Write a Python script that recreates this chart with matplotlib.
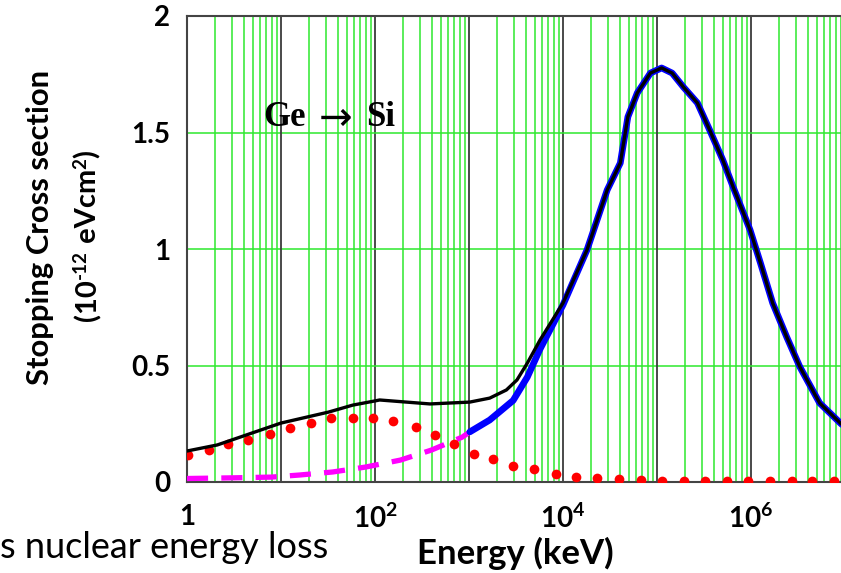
import matplotlib
matplotlib.use("Agg")
import matplotlib.pyplot as plt
from matplotlib.ticker import LogLocator, NullFormatter

plt.rcParams['font.family'] = ['Lato', 'DejaVu Sans']
plt.rcParams['mathtext.fontset'] = 'custom'
plt.rcParams['mathtext.rm'] = 'Lato:bold'
plt.rcParams['mathtext.bf'] = 'Lato:bold'
plt.rcParams['mathtext.it'] = 'Lato:bold:italic'

# ---- data (energy in keV, stopping cross section in 1e-12 eV cm^2) ----
E_total = [1, 2.1, 10, 32, 58, 100, 112, 385, 1020, 1660, 2500, 3240, 4170, 5690,
           10000, 18000, 29500, 40700, 49000, 61700, 85100, 112000, 145000,
           191000, 269000, 363000, 501000, 646000, 977000, 1.26e6, 1.70e6, 2.40e6,
           3.31e6, 5.37e6, 8.91e6, 1e7]
S_total = [0.133, 0.159, 0.253, 0.30, 0.33, 0.348, 0.352, 0.335, 0.343, 0.36, 0.395,
           0.438, 0.51, 0.609, 0.768, 0.996, 1.253, 1.369, 1.567, 1.67, 1.755,
           1.777, 1.755, 1.695, 1.627, 1.511, 1.382, 1.266, 1.082, 0.94, 0.768, 0.622,
           0.494, 0.339, 0.253, 0.235]

E_elec_high = [1020, 1660, 2950, 4170, 5690, 10000, 18000, 29500, 40700, 49000, 61700,
               85100, 112000, 145000, 191000, 269000, 363000, 501000, 646000,
               977000, 1.26e6, 1.70e6, 2.40e6, 3.31e6, 5.37e6, 8.91e6, 1e7]
S_elec_high = [0.215, 0.266, 0.35, 0.45, 0.57, 0.76, 0.996, 1.253, 1.369, 1.567, 1.67,
               1.755, 1.777, 1.755, 1.695, 1.627, 1.511, 1.382, 1.266, 1.082,
               0.94, 0.768, 0.622, 0.494, 0.339, 0.253, 0.235]

E_elec_low = [1, 3.2, 7.9, 15.8, 35.5, 79, 186, 398, 851, 1020]
S_elec_low = [0.015, 0.018, 0.021, 0.03, 0.043, 0.064, 0.094, 0.137, 0.193, 0.215]

E_nuc = [1.02, 1.7, 2.75, 4.5, 7.6, 12.6, 21, 34, 58, 95, 155, 270, 440, 690, 1120,
         1800, 2950, 4900, 8500, 13800, 23000, 39000, 68000, 112000, 195000, 324000,
         550000, 930000, 1.6e6, 2.7e6, 4.5e6, 7.6e6]
S_nuc = [0.116, 0.137, 0.163, 0.18, 0.206, 0.232, 0.253, 0.275, 0.275, 0.275, 0.262,
         0.234, 0.2, 0.163, 0.122, 0.099, 0.069, 0.054, 0.036, 0.021, 0.018, 0.013,
         0.01, 0.006, 0.005, 0.004, 0.004, 0.003, 0.003, 0.003, 0.003, 0.003]

xtick_vals = [1, 1e2, 1e4, 1e6]
xtick_labels = ['1', r'$\mathbf{10^{2}}$', r'$\mathbf{10^{4}}$', r'$\mathbf{10^{6}}$']
ytick_vals = [0, 0.5, 1, 1.5, 2]
ytick_labels = ['0', '0.5', '1', '1.5', '2']
odd_decades = [10, 1e3, 1e5, 1e7]
# second y-label line as (text, is_superscript) pieces
ylabel2_pieces = [('(10', False), ('-12', True), (' eVcm', False), ('2', True), (')', False)]

W, H = 841, 573
fig = plt.figure(figsize=(W / 100, H / 100), dpi=100)
ax = fig.add_axes([187 / W, 91 / H, (845 - 187) / W, (557 - 91) / H])

ax.set_xscale('log')
ax.set_xlim(1, 1e7)
ax.set_ylim(0, 2)

green = '#2ee82e'
dark = '#3a3a3a'
ax.xaxis.set_minor_locator(LogLocator(base=10, subs=[2, 3, 4, 5, 6, 7, 8, 9], numticks=20))
ax.xaxis.set_minor_formatter(NullFormatter())
ax.set_xticks(xtick_vals)
ax.set_xticklabels(xtick_labels)
ax.set_yticks(ytick_vals)
ax.set_yticklabels(ytick_labels)
ax.grid(True, which='major', axis='x', color=dark, lw=1.3)
ax.grid(True, which='minor', axis='x', color=green, lw=1.1)
ax.grid(True, which='major', axis='y', color=green, lw=1.1)
ax.set_axisbelow(True)
for xv in odd_decades:
    ax.axvline(xv, color=dark, lw=1.3, zorder=1)

ax.tick_params(axis='both', which='both', length=0)
ax.tick_params(axis='y', pad=12, labelsize=20)
ax.tick_params(axis='x', pad=16, labelsize=20)
for lab in ax.get_xticklabels() + ax.get_yticklabels():
    lab.set_fontweight('bold')

for sp in ax.spines.values():
    sp.set_color('#444444')
    sp.set_linewidth(1.5)

# data
ax.plot(E_elec_low, S_elec_low, color='#ff00ff', lw=3.8, dashes=(4, 2.5),
        dash_capstyle='butt', zorder=3)
ax.plot(E_elec_high, S_elec_high, color='#0000ff', lw=4.8, zorder=4,
        solid_joinstyle='round', solid_capstyle='round')
ax.plot(E_nuc, S_nuc, linestyle='none', marker='o', ms=7, color='#ff0000',
        markeredgewidth=0, zorder=5)
ax.plot(E_total, S_total, color='black', lw=2.4, zorder=6, solid_joinstyle='round')

# annotation "Ge -> Si"
serif = ['Liberation Serif', 'DejaVu Serif']
fig.text(263 / W, 1 - 117 / H, 'Ge', fontsize=25, fontweight='bold', family=serif,
         ha='left', va='center')
fig.text(335.5 / W, 1 - 119 / H, '\u2192', fontsize=29, family=['DejaVu Sans'],
         ha='center', va='center')
fig.text(395 / W, 1 - 117 / H, 'Si', fontsize=25, fontweight='bold', family=serif,
         ha='right', va='center')

# y label line 1
fig.text(40 / W, 1 - 227 / H, 'Stopping Cross section', rotation=90, fontsize=22.3,
         fontweight='bold', ha='center', va='center')

# y label line 2, built from pieces (rotated 90 deg, reading bottom to top)
renderer = fig.canvas.get_renderer()
base_x = 96.0          # baseline position in pixels from left
y_cur = H - 321.0      # start (bottom) in pixels from figure bottom
for txt, sup in ylabel2_pieces:
    fs = 13.5 if sup else 21
    xoff = -10.0 if sup else 0.0
    t = fig.text((base_x + xoff) / W, y_cur / H, txt, rotation=90, rotation_mode='anchor',
                 fontsize=fs, fontweight='bold', ha='left', va='baseline')
    bb = t.get_window_extent(renderer=renderer)
    y_cur += bb.height

fig.text(515 / W, 1 - 553 / H, 'Energy (keV)', fontsize=25, fontweight='bold',
         ha='center', va='center')
fig.text(0 / W, 1 - 548 / H, 's nuclear energy loss', fontsize=26,
         ha='left', va='center')

fig.savefig('out.png', dpi=100)
